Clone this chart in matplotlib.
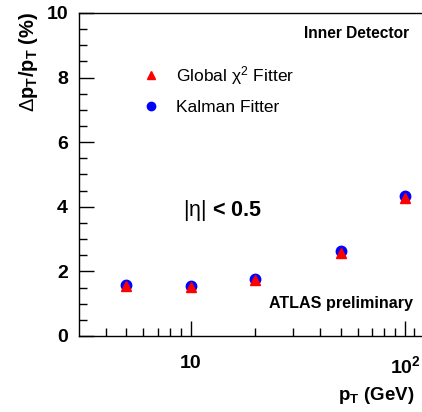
import matplotlib
matplotlib.use("Agg")
import matplotlib.pyplot as plt
from matplotlib.ticker import FixedLocator, NullFormatter, MultipleLocator

plt.rcParams.update({
    "font.family": "Liberation Sans",
    "mathtext.fontset": "custom",
    "mathtext.rm": "Liberation Sans",
    "mathtext.it": "Liberation Sans",
    "mathtext.bf": "Liberation Sans:bold",
})

# data
pt_gev = [5, 10, 20, 50, 100]
res_global_chi2 = [1.55, 1.52, 1.72, 2.57, 4.27]
res_kalman = [1.58, 1.55, 1.75, 2.62, 4.32]
y_ticks = [0, 2, 4, 6, 8, 10]
x_major = [10, 100]
x_major_labels = ["10", r"10$^{\mathbf{2}}$"]
x_minor = [4, 5, 6, 7, 8, 9, 20, 30, 40, 50, 60, 70, 80, 90, 110]

fig = plt.figure(figsize=(4.22, 4.12), dpi=100)
ax = fig.add_axes([79 / 422, 76 / 412, 1 - 79 / 422, 323 / 412])

kal, = ax.plot(pt_gev, res_kalman, "o", color="#0000ff", ms=7.5, mec="#0000ff", zorder=3)
glo, = ax.plot(pt_gev, res_global_chi2, "^", color="#ff0000", ms=7, mec="#ff0000", zorder=4)

ax.set_xscale("log")
ax.set_xlim(3, 120)
ax.set_ylim(0, 10)

ax.xaxis.set_major_locator(FixedLocator(x_major))
ax.set_xticklabels(x_major_labels)
ax.xaxis.set_minor_locator(FixedLocator(x_minor))
ax.xaxis.set_minor_formatter(NullFormatter())
ax.set_yticks(y_ticks)
ax.yaxis.set_minor_locator(MultipleLocator(0.5))

ax.tick_params(which="both", direction="in", top=False, right=False, width=1)
ax.tick_params(which="major", length=11, labelsize=14)
ax.tick_params(which="minor", length=5.5)
ax.tick_params(axis="x", which="major", pad=14)
ax.tick_params(axis="y", which="major", pad=8)
for lab in ax.get_xticklabels() + ax.get_yticklabels():
    lab.set_fontweight("bold")
ax.spines["right"].set_visible(False)
for s in ("left", "bottom", "top"):
    ax.spines[s].set_linewidth(1)

ax.legend([glo, kal], [r"Global $\chi^{2}$ Fitter", "Kalman Fitter"],
          loc="upper left", bbox_to_anchor=(0.115, 0.89), frameon=False,
          fontsize=12.5, handletextpad=0.4, labelspacing=0.75, markerscale=0.8)

ax.text(0.962, 0.935, "Inner Detector", transform=ax.transAxes, ha="right", va="center",
        fontsize=11.2, fontweight="bold")
ax.text(0.304, 0.39, r"$\mathrm{|\eta|}$ < 0.5", transform=ax.transAxes, ha="left",
        va="center", fontsize=15.5, fontweight="bold")
ax.text(0.974, 0.102, "ATLAS preliminary", transform=ax.transAxes, ha="right", va="center",
        fontsize=11.6, fontweight="bold")

fig.text(414 / 422, 1 - 395 / 412, r"p$_{\mathbf{T}}$ (GeV)", ha="right", va="center",
         fontsize=13.5, fontweight="bold")
fig.text(28 / 422, 1 - 12 / 412, r"$\Delta$p$_{\mathbf{T}}$/p$_{\mathbf{T}}$ (%)",
         rotation=90, ha="center", va="top", fontsize=14.5, fontweight="bold")

fig.savefig("out.png", dpi=100)
